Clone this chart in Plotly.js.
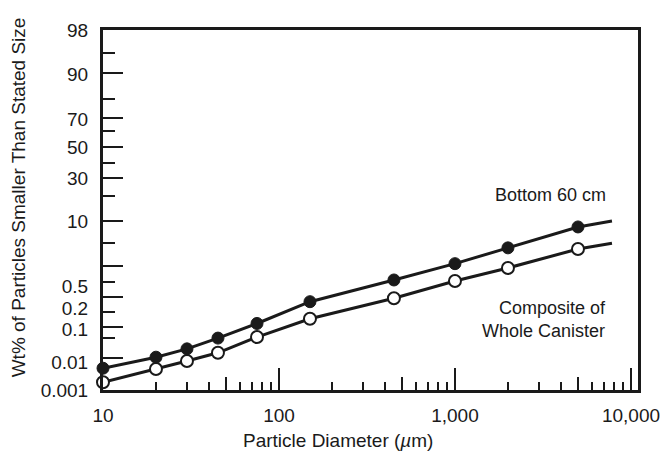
<!DOCTYPE html>
<html>
<head>
<meta charset="utf-8">
<script src="https://cdn.plot.ly/plotly-3.0.1.min.js"></script>
<style>html,body{margin:0;padding:0;background:#fff;}#chart{width:662px;height:453px;}</style>
</head>
<body>
<div id="chart"></div>
<script>
// ---- Data (particle diameter in µm, Wt% smaller than stated size) ----
const diameters = [10, 20, 30, 45, 75, 150, 450, 1000, 2000, 5000];
const bottom60 = [0.006, 0.014, 0.025, 0.053, 0.12, 0.26, 0.66, 1.4, 2.9, 7.6];
const composite = [0.0019, 0.0056, 0.0107, 0.019, 0.057, 0.14, 0.30, 0.63, 1.15, 2.75];
// lines continue past the last measured point
const lineEndX = 7800;
const bottom60End = 10;
const compositeEnd = 3.6;

// ---- Axis labels ----
const xTickVals = [10, 100, 1000, 10000];
const xTickText = ['10', '100', '1,000', '10,000'];
const yTickLabels = ['0.001', '0.01', '0.1', '0.2', '0.5', '10', '30', '50', '70', '90', '98'];
const xTitle = 'Particle Diameter (<i>µ</i>m)';
const yTitle = 'Wt% of Particles Smaller Than Stated Size';

// ---- Probability-style y scale (as printed on the chart): value -> axis position ----
const scaleVals = [0.001, 0.01, 0.1, 0.2, 0.5, 10, 30, 50, 70, 90, 98];
const scalePos  = [0, 28, 61, 82, 104, 169, 212, 243, 271, 316, 360];
function ypos(v) {
  const lv = Math.log10(v);
  for (let i = 0; i < scaleVals.length - 1; i++) {
    const a = Math.log10(scaleVals[i]), b = Math.log10(scaleVals[i + 1]);
    if (lv <= b || i === scaleVals.length - 2) {
      return scalePos[i] + (lv - a) / (b - a) * (scalePos[i + 1] - scalePos[i]);
    }
  }
}
const yMajorTicks = [317, 272, 243, 212, 169, 124, 93, 63, 32];
const yMinorTicks = [337, 291, 259, 227, 194, 147, 108, 78, 52];
const xMinorTicks = [];
const xFiveTicks = [50, 500, 5000];
[10, 100, 1000].forEach(d => [2, 3, 4, 6, 7, 8, 9].forEach(m => xMinorTicks.push(d * m)));

const FONT = 'Liberation Sans, Arial, sans-serif';
const INK = '#1a1a1a';

const traces = [
  {x: diameters.concat([lineEndX]), y: bottom60.concat([bottom60End]).map(ypos), mode: 'lines',
   line: {color: INK, width: 3}, hoverinfo: 'skip', showlegend: false},
  {x: diameters.concat([lineEndX]), y: composite.concat([compositeEnd]).map(ypos), mode: 'lines',
   line: {color: INK, width: 3}, hoverinfo: 'skip', showlegend: false},
  {x: diameters, y: bottom60.map(ypos), mode: 'markers', name: 'Bottom 60 cm', cliponaxis: false,
   marker: {symbol: 'circle', size: 12, color: INK, line: {color: INK, width: 1}}, showlegend: false},
  {x: diameters, y: composite.map(ypos), mode: 'markers', name: 'Composite of Whole Canister', cliponaxis: false,
   marker: {symbol: 'circle', size: 12, color: '#fff', line: {color: INK, width: 2}}, showlegend: false},
  // carriers for the tick-only overlay axes
  {x: [10], y: [0], xaxis: 'x2', yaxis: 'y2', mode: 'markers', marker: {opacity: 0}, hoverinfo: 'skip', showlegend: false},
  {x: [10], y: [0], xaxis: 'x3', yaxis: 'y3', mode: 'markers', marker: {opacity: 0}, hoverinfo: 'skip', showlegend: false}
];

const xr = [1, 4.04];
const yr = [0, 360];
const layout = {
  width: 662, height: 453,
  margin: {l: 103, r: 24, t: 30, b: 63},
  paper_bgcolor: '#fff', plot_bgcolor: '#fff',
  font: {family: FONT, color: INK},
  showlegend: false,
  xaxis: {
    type: 'log', range: xr, tickmode: 'array', tickvals: xTickVals, ticktext: xTickText,
    ticks: 'inside', ticklen: 22, tickwidth: 2, tickcolor: INK,
    showline: true, linewidth: 3, linecolor: INK, mirror: true,
    showgrid: false, zeroline: false, ticklabelstandoff: 6,
    tickfont: {size: 19, family: FONT, color: INK}
  },
  xaxis2: {type: 'log', range: xr, overlaying: 'x', anchor: 'y2', side: 'bottom', tickmode: 'array', tickvals: xMinorTicks,
    ticks: 'inside', ticklen: 8, tickwidth: 2, tickcolor: INK, showticklabels: false,
    showline: false, showgrid: false, zeroline: false},
  xaxis3: {type: 'log', range: xr, overlaying: 'x', anchor: 'y3', side: 'bottom', tickmode: 'array', tickvals: xFiveTicks,
    ticks: 'inside', ticklen: 13, tickwidth: 2, tickcolor: INK, showticklabels: false,
    showline: false, showgrid: false, zeroline: false},
  yaxis: {
    range: yr, tickmode: 'array', tickvals: yTickLabels.map(Number).map(ypos), ticktext: yTickLabels,
    ticks: '', showline: true, linewidth: 3, linecolor: INK, mirror: true,
    showgrid: false, zeroline: false, ticklabelstandoff: 8,
    tickfont: {size: 19, family: FONT, color: INK}
  },
  yaxis2: {range: yr, overlaying: 'y', anchor: 'x2', side: 'left', tickmode: 'array', tickvals: yMajorTicks,
    ticks: 'inside', ticklen: 20, tickwidth: 2, tickcolor: INK, showticklabels: false,
    showline: false, showgrid: false, zeroline: false},
  yaxis3: {range: yr, overlaying: 'y', anchor: 'x3', side: 'left', tickmode: 'array', tickvals: yMinorTicks,
    ticks: 'inside', ticklen: 12, tickwidth: 2, tickcolor: INK, showticklabels: false,
    showline: false, showgrid: false, zeroline: false},
  annotations: [
    {text: xTitle, xref: 'paper', yref: 'paper', x: 0.44, y: -0.139, xanchor: 'center', yanchor: 'middle',
     showarrow: false, font: {size: 19, family: FONT, color: INK}},
    {text: yTitle, xref: 'paper', yref: 'paper', x: -0.159, y: 0.535, xanchor: 'center', yanchor: 'middle',
     textangle: -90, showarrow: false, font: {size: 19, family: FONT, color: INK}},
    {text: 'Bottom 60 cm', xref: 'paper', yref: 'paper', x: 0.944, y: 0.542, xanchor: 'right', yanchor: 'middle',
     showarrow: false, font: {size: 18, family: FONT, color: INK}},
    {text: 'Composite of<br>Whole Canister', xref: 'paper', yref: 'paper', x: 0.944, y: 0.195, xanchor: 'right', yanchor: 'middle',
     align: 'right', showarrow: false, font: {size: 18, family: FONT, color: INK}}
  ]
};

Plotly.newPlot('chart', traces, layout, {displayModeBar: false, staticPlot: true});
</script>
</body>
</html>
